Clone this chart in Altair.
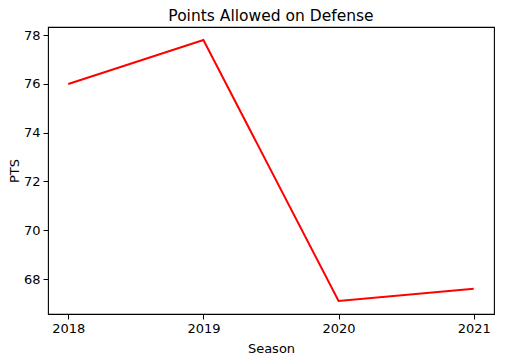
import altair as alt
import pandas as pd

seasons = [2018, 2019, 2020, 2021]
pts = [76.0, 77.8, 67.1, 67.6]

df = pd.DataFrame({"Season": seasons, "PTS": pts})

FONT = "DejaVu Sans"
W, H = 446, 287

chart = alt.Chart(df).mark_line(color="red", strokeWidth=2).encode(
    x=alt.X("Season:Q",
            scale=alt.Scale(domain=[2017.85, 2021.15], nice=False, zero=False),
            axis=alt.Axis(values=seasons, format="d", title="Season",
                          grid=False, domain=False, tickColor="black",
                          tickSize=5, labelPadding=3, labelColor="black",
                          labelFontSize=13, labelFont=FONT, titleFont=FONT,
                          titleFontSize=13, titleFontWeight="normal",
                          titleColor="black", titleBaseline="alphabetic",
                          titleX=W / 2, titleY=38)),
    y=alt.Y("PTS:Q",
            scale=alt.Scale(domain=[66.565, 78.335], nice=False, zero=False),
            axis=alt.Axis(values=[68, 70, 72, 74, 76, 78], title="PTS",
                          grid=False, domain=False, tickColor="black",
                          tickSize=5, labelPadding=3, labelColor="black",
                          labelFontSize=13, labelFont=FONT, titleFont=FONT,
                          titleFontSize=13, titleFontWeight="normal",
                          titleColor="black", titleBaseline="alphabetic",
                          titleAngle=270, titleAlign="center",
                          titleX=-30, titleY=H / 2)),
).properties(
    width=W,
    height=H,
    background="white",
    title=alt.TitleParams("Points Allowed on Defense", font=FONT, fontSize=15.5,
                          fontWeight="normal", color="black", anchor="middle",
                          baseline="alphabetic", offset=6, dy=15.5),
    autosize=alt.AutoSizeParams(type="none"),
    padding={"left": 40, "top": 19, "right": 10, "bottom": 42},
).configure_view(
    stroke="black", strokeWidth=1.1
)

chart.save("out.html", embed_options={"renderer": "svg", "actions": False})
